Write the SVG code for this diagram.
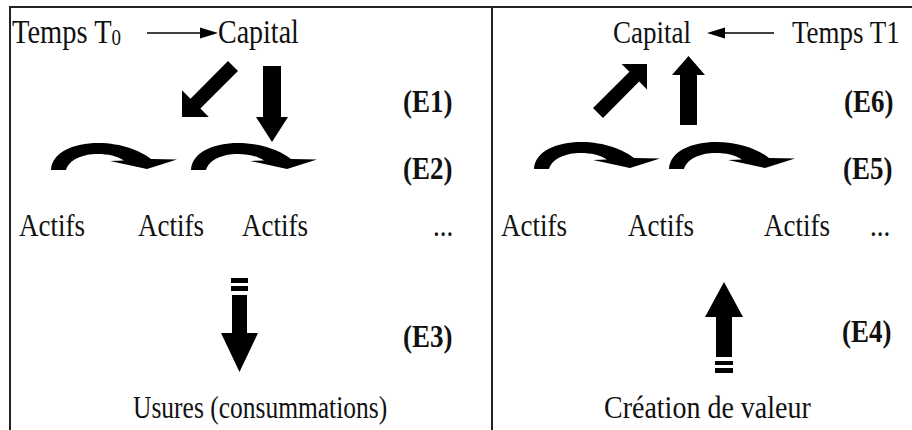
<svg xmlns="http://www.w3.org/2000/svg" width="912" height="430" viewBox="0 0 912 430">
<style>
.t{font-family:"Liberation Serif","Times New Roman",serif;font-size:27px;fill:#111}
.b{font-weight:bold}
.frame{stroke:#222;stroke-width:2;fill:none}
.ar{fill:#000}
.ln{stroke:#000;stroke-width:1.6;fill:none}
</style>
<defs>
<path id="curv" d="M 1,27 C 2,9 24,0 48,0 C 72,0 91,8 101,16 L 127,16.5 L 97,26 L 60,18 L 74,17.5 C 67,13 58,11 48,11 C 32,11 19,17 16,27 Z"/>
</defs>
<rect width="912" height="430" fill="#fff"/>
<g id="frame">
<path class="frame" d="M 10,430 L 10,7 L 912,7 M 492,7 L 492,430"/>
</g>
<g id="nodes">
<g id="temps0"><text class="t" style="font-size:28.5px" transform="matrix(1 0 0 1.18 12 43)">Temps T<tspan font-size="19" dy="2">0</tspan></text></g>
<g id="capital0"><text class="t" style="font-size:28px" transform="matrix(1 0 0 1.18 218 43)">Capital</text></g>
<g id="capital1"><text class="t" transform="matrix(1 0 0 1.18 613 43)">Capital</text></g>
<g id="temps1"><text class="t" transform="matrix(1 0 0 1.18 792 43)">Temps T1</text></g>
<g id="e1"><text class="t b" transform="matrix(1 0 0 1.15 403 112)">(E1)</text></g>
<g id="e6"><text class="t b" transform="matrix(1 0 0 1.15 844 112)">(E6)</text></g>
<g id="e2"><text class="t b" transform="matrix(1 0 0 1.15 403 179)">(E2)</text></g>
<g id="e5"><text class="t b" transform="matrix(1 0 0 1.15 843 179)">(E5)</text></g>
<g id="actifs1"><text class="t" transform="matrix(1 0 0 1.18 19 236)">Actifs</text></g>
<g id="actifs2"><text class="t" transform="matrix(1 0 0 1.18 138 236)">Actifs</text></g>
<g id="actifs3"><text class="t" transform="matrix(1 0 0 1.18 242 236)">Actifs</text></g>
<g id="dots1"><text class="t" transform="matrix(1 0 0 1.18 433 236)">...</text></g>
<g id="actifs4"><text class="t" transform="matrix(1 0 0 1.18 501 236)">Actifs</text></g>
<g id="actifs5"><text class="t" transform="matrix(1 0 0 1.18 628 236)">Actifs</text></g>
<g id="actifs6"><text class="t" transform="matrix(1 0 0 1.18 764 236)">Actifs</text></g>
<g id="dots2"><text class="t" transform="matrix(1 0 0 1.18 870 236)">...</text></g>
<g id="e3"><text class="t b" transform="matrix(1 0 0 1.15 403 347)">(E3)</text></g>
<g id="e4"><text class="t b" transform="matrix(1 0 0 1.15 842 342)">(E4)</text></g>
<g id="usures"><text class="t" style="font-size:25.5px" transform="matrix(1 0 0 1.2 133 418)">Usures (consummations)</text></g>
<g id="creation"><text class="t" style="font-size:28px" transform="matrix(1 0 0 1.12 604 418)">Création de valeur</text></g>
</g>
<g id="connectors">
<line class="ln" x1="147" y1="33" x2="202" y2="33"/>
<polygon class="ar" points="218,33 200,27.5 200,38.5"/>
<line class="ln" x1="774" y1="33" x2="722" y2="33"/>
<polygon class="ar" points="707,33 725,27.5 725,38.5"/>
<polygon class="ar" points="228,61 238,71 200.4,108.6 208.8,117 182,117 182,90.2 190.5,98.7"/>
<polygon class="ar" points="263,66 281,66 281,117 288,117 272,142 256,117 263,117"/>
<polygon class="ar" points="593,108 629.4,71.8 621.6,64 647,64 647,89.4 639.2,81.6 603,118"/>
<polygon class="ar" points="680,125 697,125 697,75 705,75 688.5,56 672,75 680,75"/>
<use href="#curv" class="ar" transform="translate(50,143)"/>
<use href="#curv" class="ar" transform="translate(190,143)"/>
<use href="#curv" class="ar" transform="translate(533,142)"/>
<use href="#curv" class="ar" transform="translate(668,142)"/>
<rect class="ar" x="231" y="278" width="17" height="5"/>
<rect class="ar" x="231" y="286" width="17" height="5"/>
<polygon class="ar" points="232,295 247,295 247,333 258,333 239.5,372 221,333 232,333"/>
<polygon class="ar" points="724,282 743,317 732,317 732,357 716,357 716,317 705,317"/>
<rect class="ar" x="715" y="361" width="18" height="4"/>
<rect class="ar" x="715" y="368" width="18" height="5"/>
</g>
</svg>
